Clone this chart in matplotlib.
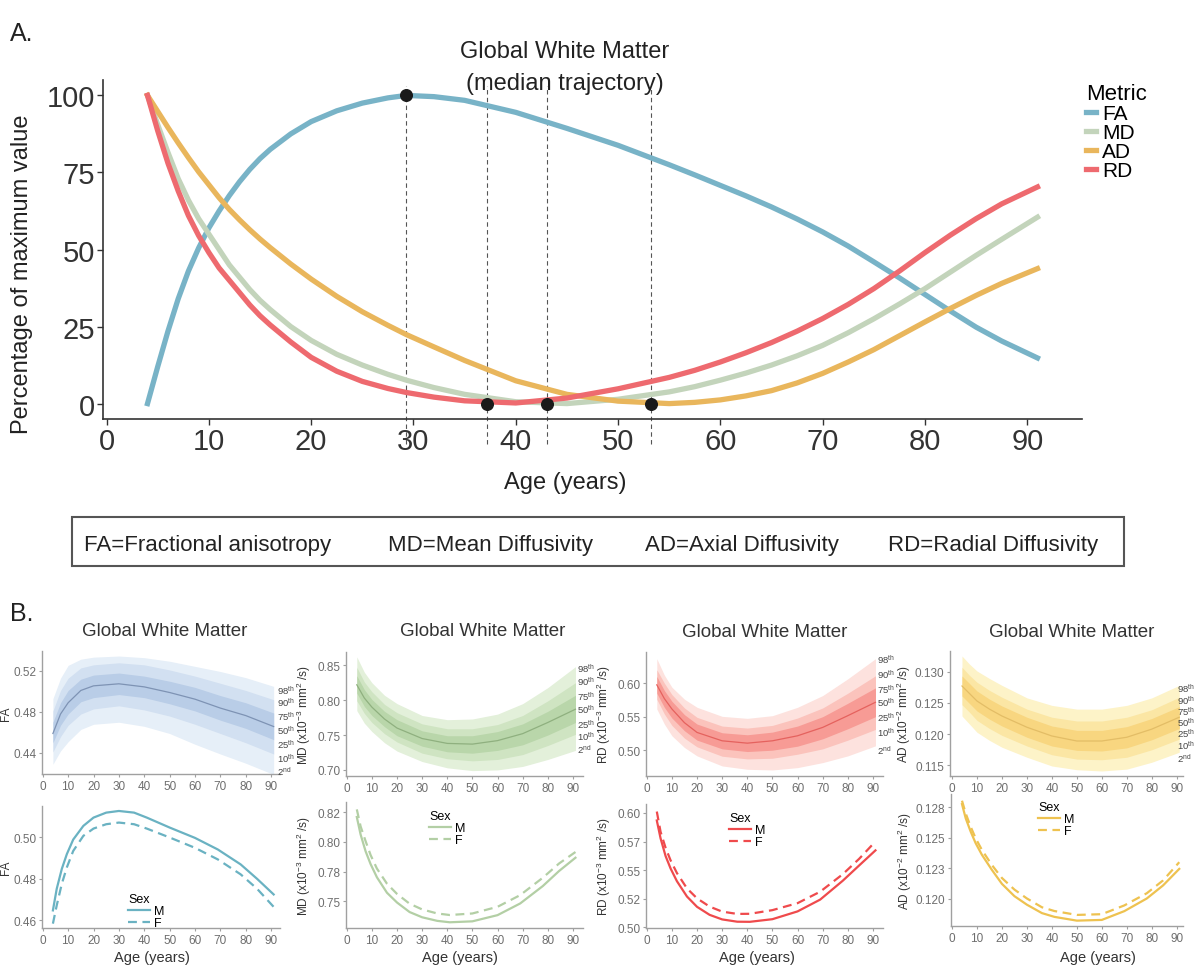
import numpy as np
import matplotlib.pyplot as plt
from matplotlib.patches import Rectangle

plt.rcParams['font.family'] = ['Liberation Sans', 'DejaVu Sans']
plt.rcParams['mathtext.fontset'] = 'custom'
plt.rcParams['mathtext.rm'] = 'Liberation Sans'
plt.rcParams['mathtext.it'] = 'Liberation Sans:italic'

# ---------------- panel A: median trajectories, % of max value
ages_a = [4, 5, 6, 7, 8, 9, 10, 11, 12, 13, 14, 15, 16, 18, 20, 22.5, 25, 27.5, 29.3, 32,
          35, 40, 45, 50, 55, 57.5, 60, 62.5, 65, 67.5, 70, 72.5, 75, 77.5, 80, 82.5, 85, 87.5, 91]
fa_pct = [0, 12, 23.5, 34, 43, 50.5, 57, 62.5, 67.5, 72, 76, 79.5, 82.5, 87.5, 91.5, 95, 97.5,
          99.2, 100, 99.6, 98.4, 94.5, 89.3, 83.8, 77.5, 74.2, 70.8, 67.4, 63.8, 59.9, 55.7,
          51.1, 46, 40.8, 35.4, 30, 24.8, 20.3, 14.8]
md_pct = [100, 90.5, 81.5, 73, 66, 60, 55, 50, 45, 41, 37, 33.5, 30.5, 25, 20.5, 16, 12.5,
          9.5, 7.6, 5.2, 3, 0.6, 0, 1.4, 3.8, 5.5, 7.6, 9.9, 12.5, 15.5, 18.9, 23, 27.5, 32.3,
          37.3, 42.7, 48.1, 53.3, 60.5]
ad_pct = [100, 94.8, 89.6, 84.6, 79.8, 75.2, 71, 66.8, 63, 59.6, 56.4, 53.4, 50.6, 45.3, 40.4,
          34.8, 29.8, 25.4, 22.4, 18.4, 14, 7.4, 3, 0.8, 0, 0.4, 1.2, 2.5, 4.2, 6.7, 9.8, 13.5,
          17.5, 22, 26.5, 30.9, 35.1, 39, 43.8]
rd_pct = [100, 88.5, 78, 69, 61, 54.5, 49, 44, 40, 36, 32, 28.5, 25.5, 20, 15, 10.5, 7.2,
          4.9, 3.6, 2.1, 0.9, 0.2, 1.8, 4.8, 8.5, 10.8, 13.5, 16.5, 19.8, 23.5, 27.6, 32.2,
          37.3, 43, 49, 54.7, 60, 64.8, 70.3]
metrics = ['FA', 'MD', 'AD', 'RD']
peak_ages = [29.3, 43.1, 53.2, 37.2]
peak_vals = [100, 0, 0, 0]
abbrevs = ['FA=Fractional anisotropy', 'MD=Mean Diffusivity', 'AD=Axial Diffusivity', 'RD=Radial Diffusivity']

# ---------------- panel B: percentile curves (2, 10, 25, 50, 75, 90, 98)
ages_b = [4, 7, 10, 15, 20, 30, 40, 50, 60, 70, 80, 91]
fa_p2 = [0.429, 0.442, 0.451, 0.463, 0.468, 0.470, 0.466, 0.459, 0.4485, 0.439, 0.430, 0.419]
fa_p10 = [0.441, 0.456, 0.467, 0.478, 0.483, 0.486, 0.482, 0.476, 0.468, 0.459, 0.450, 0.439]
fa_p25 = [0.450, 0.467, 0.478, 0.490, 0.494, 0.497, 0.494, 0.488, 0.481, 0.472, 0.464, 0.453]
fa_p50 = [0.459, 0.478, 0.489, 0.501, 0.5055, 0.5075, 0.5045, 0.499, 0.4925, 0.4838, 0.4765, 0.4658]
fa_p75 = [0.470, 0.489, 0.501, 0.512, 0.516, 0.518, 0.515, 0.510, 0.504, 0.496, 0.489, 0.479]
fa_p90 = [0.481, 0.501, 0.513, 0.523, 0.526, 0.528, 0.526, 0.521, 0.515, 0.508, 0.501, 0.492]
fa_p98 = [0.493, 0.513, 0.5255, 0.5315, 0.5335, 0.5346, 0.533, 0.5295, 0.5245, 0.5195, 0.5135, 0.505]

md_p2 = [0.785, 0.767, 0.755, 0.739, 0.727, 0.712, 0.703, 0.699, 0.700, 0.705, 0.715, 0.728]
md_p10 = [0.799, 0.781, 0.768, 0.752, 0.740, 0.724, 0.716, 0.713, 0.715, 0.722, 0.735, 0.751]
md_p25 = [0.810, 0.791, 0.778, 0.762, 0.749, 0.734, 0.726, 0.724, 0.728, 0.736, 0.750, 0.768]
md_p50 = [0.822, 0.803, 0.790, 0.773, 0.760, 0.745, 0.738, 0.737, 0.742, 0.752, 0.768, 0.787]
md_p75 = [0.835, 0.815, 0.801, 0.784, 0.772, 0.756, 0.749, 0.749, 0.755, 0.766, 0.784, 0.807]
md_p90 = [0.847, 0.826, 0.812, 0.794, 0.782, 0.766, 0.759, 0.759, 0.765, 0.778, 0.799, 0.825]
md_p98 = [0.862, 0.840, 0.825, 0.807, 0.795, 0.778, 0.772, 0.773, 0.780, 0.795, 0.818, 0.848]

rd_p2 = [0.5615, 0.539, 0.5215, 0.504, 0.4915, 0.4765, 0.4715, 0.4705, 0.474, 0.4815, 0.4915, 0.5065]
rd_p10 = [0.576, 0.554, 0.537, 0.518, 0.505, 0.491, 0.487, 0.488, 0.494, 0.502, 0.515, 0.531]
rd_p25 = [0.585, 0.564, 0.548, 0.529, 0.515, 0.502, 0.498, 0.500, 0.506, 0.517, 0.532, 0.550]
rd_p50 = [0.5975, 0.577, 0.5615, 0.541, 0.5265, 0.514, 0.5105, 0.514, 0.5215, 0.534, 0.5515, 0.5715]
rd_p75 = [0.610, 0.589, 0.573, 0.553, 0.539, 0.526, 0.523, 0.527, 0.536, 0.550, 0.570, 0.593]
rd_p90 = [0.620, 0.600, 0.583, 0.563, 0.549, 0.536, 0.533, 0.537, 0.548, 0.563, 0.585, 0.611]
rd_p98 = [0.6365, 0.612, 0.594, 0.576, 0.564, 0.5505, 0.5475, 0.5515, 0.564, 0.5815, 0.6065, 0.6365]

ad_p2 = [0.1229, 0.1216, 0.1203, 0.1190, 0.1179, 0.1163, 0.1149, 0.1143, 0.1141, 0.1144, 0.1155, 0.1171]
ad_p10 = [0.1247, 0.1235, 0.1222, 0.1209, 0.1198, 0.1181, 0.1167, 0.1160, 0.1159, 0.1163, 0.1175, 0.1192]
ad_p25 = [0.1261, 0.1249, 0.1237, 0.1224, 0.1213, 0.1195, 0.1181, 0.1174, 0.1173, 0.1178, 0.1191, 0.1209]
ad_p50 = [0.1277, 0.1265, 0.1253, 0.1240, 0.1229, 0.1211, 0.1197, 0.1189, 0.1189, 0.1195, 0.1208, 0.1227]
ad_p75 = [0.1293, 0.1281, 0.1269, 0.1256, 0.1245, 0.1227, 0.1213, 0.1206, 0.1206, 0.1212, 0.1225, 0.1244]
ad_p90 = [0.1307, 0.1294, 0.1283, 0.1270, 0.1259, 0.1240, 0.1227, 0.1221, 0.1221, 0.1227, 0.1239, 0.1259]
ad_p98 = [0.1325, 0.1312, 0.1301, 0.1289, 0.1278, 0.1258, 0.1246, 0.1240, 0.1240, 0.1246, 0.1258, 0.1278]

pct_labels = [r'98$^{\mathrm{th}}$', r'90$^{\mathrm{th}}$', r'75$^{\mathrm{th}}$', r'50$^{\mathrm{th}}$',
              r'25$^{\mathrm{th}}$', r'10$^{\mathrm{th}}$', r'2$^{\mathrm{nd}}$']

# ---------------- panel B: by sex
ages_sex = [4, 5.5, 7.5, 9.5, 12, 16, 20, 25, 30, 36, 41, 50, 60, 69, 78, 84.5, 91]
fa_m = [0.4648, 0.4752, 0.4848, 0.492, 0.499, 0.5056, 0.5096, 0.512, 0.5128, 0.512, 0.5096,
        0.5048, 0.4998, 0.4942, 0.4870, 0.480, 0.4725]
fa_f = [0.4584, 0.4672, 0.4776, 0.4856, 0.4935, 0.5008, 0.5043, 0.5064, 0.5072, 0.5064, 0.5043,
        0.500, 0.4950, 0.4894, 0.4822, 0.4752, 0.4665]
md_m = [0.8208, 0.8062, 0.792, 0.7812, 0.7702, 0.7572, 0.749, 0.741, 0.7366, 0.7336, 0.7324,
        0.7332, 0.7384, 0.7482, 0.7628, 0.7755, 0.7866]
md_f = [0.8272, 0.8130, 0.8005, 0.7888, 0.7775, 0.7648, 0.7562, 0.748, 0.7432, 0.7398, 0.7385,
        0.7398, 0.7454, 0.7552, 0.7698, 0.7818, 0.7914]
rd_m = [0.5934, 0.5778, 0.5623, 0.5514, 0.5404, 0.5270, 0.5180, 0.511, 0.507, 0.5050, 0.5049,
        0.5072, 0.514, 0.5243, 0.5408, 0.5541, 0.5673]
rd_f = [0.6012, 0.5835, 0.5695, 0.5585, 0.5475, 0.5341, 0.5254, 0.5182, 0.5138, 0.5118, 0.5119,
        0.5151, 0.5212, 0.5312, 0.5465, 0.5599, 0.5751]
ad_m = [0.12777, 0.12660, 0.12550, 0.12455, 0.12360, 0.12236, 0.12122, 0.12021, 0.11951, 0.11882,
        0.11851, 0.11820, 0.11826, 0.11898, 0.12002, 0.12109, 0.12245]
ad_f = [0.12805, 0.12700, 0.12590, 0.12495, 0.12400, 0.12276, 0.12170, 0.12075, 0.12002, 0.11930,
        0.11899, 0.11867, 0.11873, 0.11945, 0.12045, 0.12150, 0.12300]

W, H = 1200, 979
fig = plt.figure(figsize=(W / 100, H / 100), dpi=100)


def rect(l, t, r, b):
    return [l / W, 1 - b / H, (r - l) / W, (b - t) / H]


def ftext(x, y, s, **kw):
    fig.text(x / W, 1 - y / H, s, **kw)


# ======== panel A
axA = fig.add_axes(rect(103, 81, 1082, 420))
colors_a = {'FA': '#78b3c7', 'MD': '#c3d4bb', 'AD': '#e9b65c', 'RD': '#ee6a6f'}
for name, vals in zip(metrics, [fa_pct, md_pct, ad_pct, rd_pct]):
    axA.plot(ages_a, vals, color=colors_a[name], lw=3.8, label=name, zorder=3,
             solid_joinstyle='round')
for a in peak_ages:
    axA.plot([a, a], [-13, 103], ls=(0, (4, 3)), color='#555555', lw=0.8, clip_on=False, zorder=2)
axA.scatter(peak_ages, peak_vals, s=70, color='#1a1a1a', zorder=5)
axA.set_xlim(-0.35, 95.35)
axA.set_ylim(-5, 105)
axA.set_xticks(range(0, 91, 10))
axA.set_yticks([0, 25, 50, 75, 100])
for s in ['top', 'right']:
    axA.spines[s].set_visible(False)
for s in ['left', 'bottom']:
    axA.spines[s].set_color('#333333')
    axA.spines[s].set_linewidth(1.2)
axA.tick_params(labelsize=21, colors='#333333', length=4, width=1, pad=2)
axA.legend(title='Metric', loc='upper left', bbox_to_anchor=(1076 / W, 1 - 74 / H),
           bbox_transform=fig.transFigure, frameon=False, fontsize=15, title_fontsize=16,
           handlelength=0.45, handletextpad=0.3, labelspacing=0.0, borderpad=0,
           alignment='left')

ftext(22, 34, 'A.', fontsize=18, ha='center', va='center', color='#222222')
ftext(565, 52, 'Global White Matter', fontsize=17, ha='center', va='center', color='#222222')
ftext(565, 84, '(median trajectory)', fontsize=17, ha='center', va='center', color='#222222')
ftext(565, 483, 'Age (years)', fontsize=17, ha='center', va='center', color='#222222')
ftext(22, 274, 'Percentage of maximum value', fontsize=17, ha='center', va='center',
      rotation=90, color='#222222')

fig.patches.append(Rectangle((72 / W, 1 - 567 / H), (1124 - 72) / W, (567 - 518) / H,
                             transform=fig.transFigure, fill=False, ec='#555555', lw=1.5))
for cx, txt in zip([208, 490, 742, 993], abbrevs):
    ftext(cx, 545, txt, fontsize=16, ha='center', va='center', color='#222222')

# ======== panel B
ftext(22, 614, 'B.', fontsize=18, ha='center', va='center', color='#222222')

grey = '#6e6e6e'


def style_b(ax, ylim, yticks, yticklabels, ylabel, xlim, lab_x):
    ax.set_xlim(*xlim)
    ax.set_ylim(*ylim)
    ax.set_xticks(range(0, 91, 10))
    ax.set_yticks(yticks)
    ax.set_yticklabels(yticklabels)
    for s in ['top', 'right']:
        ax.spines[s].set_visible(False)
    for s in ['left', 'bottom']:
        ax.spines[s].set_color('#a0a0a0')
        ax.spines[s].set_linewidth(1.0)
    ax.tick_params(labelsize=8.5, colors='#a0a0a0', labelcolor=grey, length=2, pad=2)
    ax.set_ylabel(ylabel, fontsize=8.5, color='#333333')
    ax.yaxis.set_label_coords(lab_x, 0.5)


cols = [
    dict(pcts=[fa_p2, fa_p10, fa_p25, fa_p50, fa_p75, fa_p90, fa_p98],
         fills=['#e6eff8', '#d2e0f1', '#b9cde7'], med='#7e93b4', line='#6ab2c2',
         m=fa_m, f=fa_f, ylabel='FA', ylab_x=-0.125,
         top=(42, 652, 280, 775), bot=(42, 807, 280, 929),
         xlim_t=(-0.3, 93.5), xlim_b=(-0.3, 93.5),
         ylim_t=(0.4195, 0.5395), yt_t=[0.44, 0.48, 0.52], ytl_t=['0.44', '0.48', '0.52'],
         ylim_b=(0.4563, 0.5152), yt_b=[0.46, 0.48, 0.50], ytl_b=['0.46', '0.48', '0.50'],
         lab_x=0.987, lab_y=[0.683, 0.585, 0.472, 0.358, 0.244, 0.130, 0.024],
         leg=(122, 888), title=(165, 632), agex=152),
    dict(pcts=[md_p2, md_p10, md_p25, md_p50, md_p75, md_p90, md_p98],
         fills=['#e3f0da', '#cfe4c2', '#b9d6aa'], med='#8fb07f', line='#b3cfa5',
         m=md_m, f=md_f, ylabel=r'MD (x10$^{-3}$ mm$^{2}$ /s)', ylab_x=-0.14,
         top=(346, 653, 583, 777), bot=(346, 803, 583, 929),
         xlim_t=(-0.3, 94), xlim_b=(-0.3, 94),
         ylim_t=(0.6913, 0.869), yt_t=[0.70, 0.75, 0.80, 0.85], ytl_t=['0.70', '0.75', '0.80', '0.85'],
         ylim_b=(0.7276, 0.8334), yt_b=[0.75, 0.775, 0.80, 0.825], ytl_b=['0.75', '0.78', '0.80', '0.82'],
         lab_x=0.975, lab_y=[0.871, 0.766, 0.645, 0.540, 0.419, 0.323, 0.218],
         leg=(423, 805), title=(483, 631), agex=460),
    dict(pcts=[rd_p2, rd_p10, rd_p25, rd_p50, rd_p75, rd_p90, rd_p98],
         fills=['#fde2de', '#fbc3bc', '#f79b95'], med='#e5625e', line='#ef4a4c',
         m=rd_m, f=rd_f, ylabel=r'RD (x10$^{-3}$ mm$^{2}$ /s)', ylab_x=-0.14,
         top=(646, 653, 883, 777), bot=(646, 805, 883, 929),
         xlim_t=(-0.3, 94), xlim_b=(-0.3, 94),
         ylim_t=(0.4615, 0.6465), yt_t=[0.50, 0.55, 0.60], ytl_t=['0.50', '0.55', '0.60'],
         ylim_b=(0.4995, 0.6078), yt_b=[0.50, 0.525, 0.55, 0.575, 0.60],
         ytl_b=['0.50', '0.52', '0.55', '0.57', '0.60'],
         lab_x=0.975, lab_y=[0.944, 0.823, 0.702, 0.597, 0.476, 0.355, 0.210],
         leg=(723, 807), title=(765, 633), agex=757),
    dict(pcts=[ad_p2, ad_p10, ad_p25, ad_p50, ad_p75, ad_p90, ad_p98],
         fills=['#fdf3c8', '#fbe6a4', '#f8d680'], med='#e3bd66', line='#eec250',
         m=ad_m, f=ad_f, ylabel=r'AD (x10$^{-2}$ mm$^{2}$ /s)', ylab_x=-0.16,
         top=(950, 652, 1183, 777), bot=(951, 795, 1183, 927),
         xlim_t=(-0.8, 92.5), xlim_b=(-0.4, 92.5),
         ylim_t=(0.1133, 0.1333), yt_t=[0.115, 0.120, 0.125, 0.130],
         ytl_t=['0.115', '0.120', '0.125', '0.130'],
         ylim_b=(0.11776, 0.1286), yt_b=[0.120, 0.1225, 0.125, 0.1275],
         ytl_b=['0.120', '0.123', '0.125', '0.128'],
         lab_x=0.974, lab_y=[0.704, 0.608, 0.520, 0.432, 0.344, 0.248, 0.144],
         leg=(1032, 796), title=(1072, 633), agex=1098),
]

for c in cols:
    p2, p10, p25, p50, p75, p90, p98 = c['pcts']
    ax = fig.add_axes(rect(*c['top']))
    ax.fill_between(ages_b, p2, p98, color=c['fills'][0], lw=0)
    ax.fill_between(ages_b, p10, p90, color=c['fills'][1], lw=0)
    ax.fill_between(ages_b, p25, p75, color=c['fills'][2], lw=0)
    ax.plot(ages_b, p50, color=c['med'], lw=0.9)
    style_b(ax, c['ylim_t'], c['yt_t'], c['ytl_t'], c['ylabel'], c['xlim_t'], c['ylab_x'])
    for lab, yy in zip(pct_labels, c['lab_y']):
        ax.text(c['lab_x'], yy, lab, transform=ax.transAxes, fontsize=6.8,
                color='#444444', ha='left', va='center')
    ftext(c['title'][0], c['title'][1], 'Global White Matter', fontsize=13.5,
          ha='center', va='center', color='#333333')

    axb = fig.add_axes(rect(*c['bot']))
    lm, = axb.plot(ages_sex, c['m'], color=c['line'], lw=1.6)
    lf, = axb.plot(ages_sex, c['f'], color=c['line'], lw=1.6, ls=(0, (4, 2.5)))
    style_b(axb, c['ylim_b'], c['yt_b'], c['ytl_b'], c['ylabel'], c['xlim_b'], c['ylab_x'])
    lx, ly = c['leg']
    axb.legend([lm, lf], ['M', 'F'], title='Sex', loc='upper left',
               bbox_to_anchor=(lx / W, 1 - ly / H), bbox_transform=fig.transFigure,
               frameon=False, fontsize=9, title_fontsize=9, handlelength=1.7,
               handletextpad=0.35, labelspacing=0.0, borderpad=0, alignment='left')
    ftext(c['agex'], 958, 'Age (years)', fontsize=10.5, ha='center', va='center', color='#333333')

fig.savefig('out.png', dpi=100, facecolor='white')
